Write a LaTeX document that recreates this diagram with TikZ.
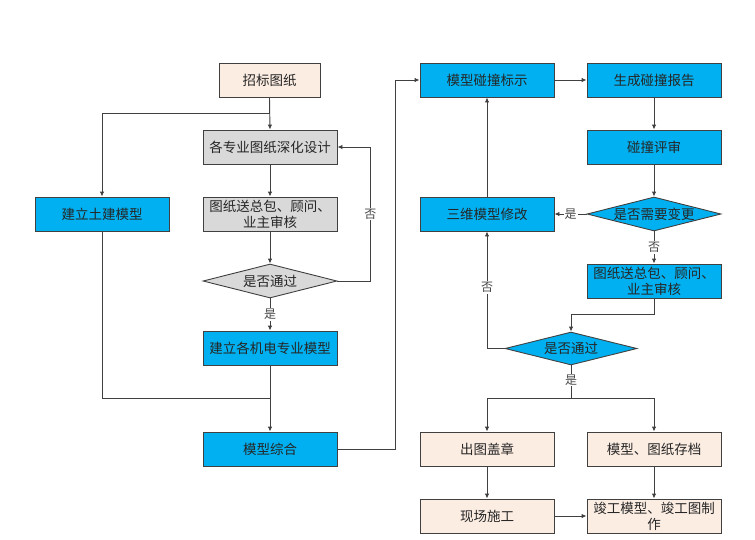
\documentclass[tikz,border=0pt]{standalone}
\usepackage{fontspec}
\newfontfamily\cjk{Noto Sans CJK SC}
\usetikzlibrary{arrows.meta,shapes.geometric}
\definecolor{linec}{HTML}{404040}
\definecolor{textc}{HTML}{262626}
\definecolor{peach}{HTML}{FCEDE3}
\definecolor{bluef}{HTML}{00B0F0}
\definecolor{greyf}{HTML}{D9D9D9}
\tikzset{
  box/.style={draw=linec, line width=0.9pt, minimum width=134pt, minimum height=34pt, inner sep=1pt,
    font=\cjk\fontsize{13.5}{16}\selectfont, text=textc, align=center},
  pbox/.style={box, fill=peach},
  bbox/.style={box, fill=bluef},
  gbox/.style={box, fill=greyf},
  dia/.style={draw=linec, line width=0.9pt, shape=diamond, inner sep=0pt, minimum width=134pt, minimum height=34pt},
  dtext/.style={font=\cjk\fontsize{13.5}{16}\selectfont, text=textc, inner sep=0pt},
  conn/.style={draw=linec, line width=0.9pt},
  arr/.style={conn, -{Latex[length=5pt,width=4.5pt]}},
  lab/.style={font=\cjk\fontsize{12}{14}\selectfont, text=textc!85, fill=white, inner sep=1pt}
}
\begin{document}
\begin{tikzpicture}[x=1pt,y=-1pt]
\useasboundingbox (0,0) rectangle (755,539);
% left column
\node[pbox, minimum width=101pt] (n1) at (269.5,80) {招标图纸};
\node[gbox] (n2) at (270,147) {各专业图纸深化设计};
\node[bbox] (n3) at (102,214) {建立土建模型};
\node[gbox] (n4) at (270,214) {图纸送总包、顾问、\\业主审核};
\node[dia, fill=greyf, label={[dtext]center:是否通过}] (d1) at (270,281) {};
\node[bbox] (n5) at (270,348) {建立各机电专业模型};
\node[bbox] (n6) at (270,449) {模型综合};
\coordinate (j1) at (270,398);
% right column
\node[bbox] (m1) at (487,80) {模型碰撞标示};
\node[bbox] (m2) at (654,80) {生成碰撞报告};
\node[bbox] (m3) at (654,147) {碰撞评审};
\node[dia, fill=bluef, label={[dtext]center:是否需要变更}] (d2) at (654,214) {};
\node[bbox] (m4) at (487,214) {三维模型修改};
\node[bbox] (m5) at (654,281) {图纸送总包、顾问、\\业主审核};
\node[dia, fill=bluef, minimum width=132pt, minimum height=33pt, label={[dtext]center:是否通过}] (d3) at (571,348.5) {};
\node[pbox] (m6) at (487,449) {出图盖章};
\node[pbox] (m7) at (654,449) {模型、图纸存档};
\node[pbox] (m8) at (487,516) {现场施工};
\node[pbox] (m9) at (654,516) {竣工模型、竣工图制\\作};
\coordinate (j2) at (571,398);
% connectors left
\draw[arr] (n1.south) -- (n2.north);
\draw[arr] (n1.south) -- ++(0,16) -| (n3.north);
\draw[arr] (n2.south) -- (n4.north);
\draw[arr] (n4.south) -- (d1.north);
\draw[arr] (d1.east) -- ++(33,0) |- (n2.east) node[lab, pos=0.25] {否};
\draw[arr] (d1.south) -- (n5.north) node[lab, midway] {是};
\draw[arr] (n5.south) -- (n6.north);
\draw[conn] (n3.south) |- (j1);
\draw[arr] (n6.east) -- ++(58,0) |- (m1.west);
% connectors right
\draw[arr] (m1.east) -- (m2.west);
\draw[arr] (m2.south) -- (m3.north);
\draw[arr] (m3.south) -- (d2.north);
\draw[arr] (d2.west) -- (m4.east) node[lab, midway] {是};
\draw[arr] (d2.south) -- (m5.north) node[lab, midway] {否};
\draw[arr] (m4.north) -- (m1.south);
\draw[arr] (m5.south) -- ++(0,16) -| (d3.north);
\draw[arr] (d3.west) -| (m4.south) node[lab, pos=0.76] {否};
\draw[conn] (d3.south) -- (j2) node[lab, pos=0.45] {是};
\draw[arr] (j2) -| (m6.north);
\draw[arr] (j2) -| (m7.north);
\draw[arr] (m6.south) -- (m8.north);
\draw[arr] (m7.south) -- (m9.north);
\draw[arr] (m8.east) -- (m9.west);
\end{tikzpicture}
\end{document}
